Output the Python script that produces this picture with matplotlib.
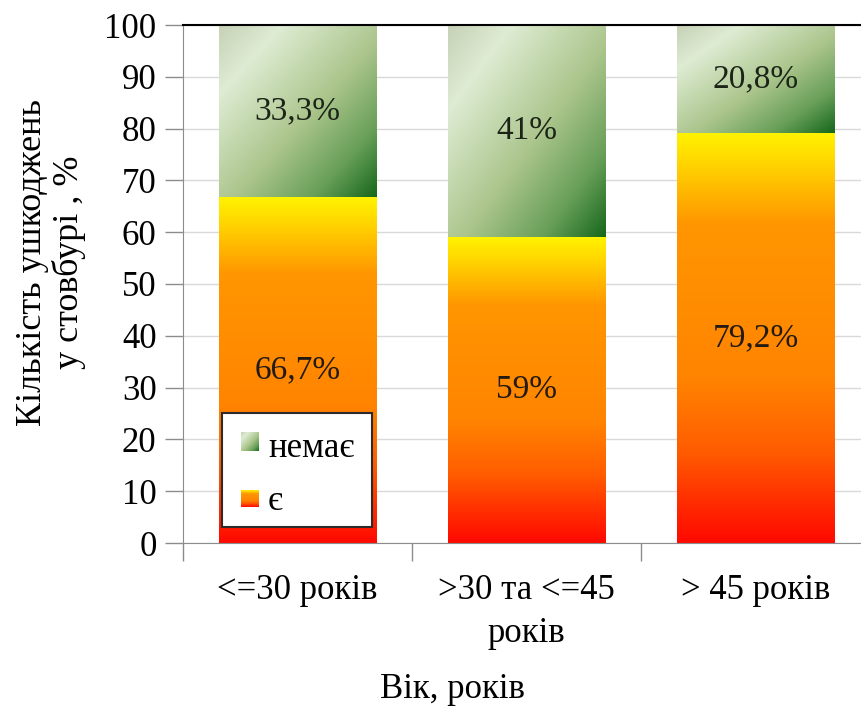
import numpy as np
import matplotlib
matplotlib.use('Agg')
import matplotlib.pyplot as plt
from matplotlib.colors import LinearSegmentedColormap
from matplotlib.patches import Rectangle

# share of trees with / without trunk damage by age group, %
categories = ['<=30 років', '>30 та <=45\nроків', '> 45 років']
share_yes = [66.7, 59.0, 79.2]
share_no = [33.3, 41.0, 20.8]
labels_yes = ['66,7%', '59%', '79,2%']
labels_no = ['33,3%', '41%', '20,8%']
legend_labels = ['немає', 'є']

plt.rcParams['font.family'] = 'serif'
plt.rcParams['font.serif'] = ['Liberation Serif', 'Times New Roman', 'DejaVu Serif']

cmap_yes = LinearSegmentedColormap.from_list(
    'yes', [(0, '#fff200'), (0.08, '#ffd200'), (0.22, '#ff9600'), (0.6, '#ff8400'),
            (0.78, '#ff5c00'), (0.9, '#ff2e00'), (1, '#ff0a00')])
cmap_no = LinearSegmentedColormap.from_list(
    'no', [(0, '#c6d1b6'), (0.2, '#deecd3'), (0.55, '#abc58c'), (0.8, '#689f58'), (1, '#17681c')])

fig = plt.figure(figsize=(8.61, 7.11), dpi=100)
ax = fig.add_axes([183/861, 168/711, 687/861, 518/711])

width = 0.686

def gradient_rect(x0, x1, y0, y1, cmap, diagonal=False, transform=None):
    v = np.linspace(0, 1, 200)[:, None]
    if diagonal:
        u = np.linspace(0, 1, 120)[None, :]
        t = (u + v) / 2.
    else:
        t = np.repeat(v, 2, axis=1)
    kw = {}
    if transform is not None:
        kw['transform'] = transform
    ax.imshow(t, cmap=cmap, vmin=0, vmax=1, extent=(x0, x1, y0, y1), origin='upper',
              aspect='auto', interpolation='bilinear', zorder=2, **kw)

for i, cat in enumerate(categories):
    x0, x1 = i - width/2, i + width/2
    gradient_rect(x0, x1, 0, share_yes[i], cmap_yes)
    gradient_rect(x0, x1, share_yes[i], share_yes[i] + share_no[i], cmap_no, diagonal=True)
    ax.text(i, share_yes[i]/2, labels_yes[i], ha='center', va='center', fontsize=24, color='#231a14', zorder=3)
    ax.text(i, share_yes[i] + share_no[i]/2, labels_no[i], ha='center', va='center', fontsize=24, color='#1c2418', zorder=3)

ax.set_yticks(range(0, 101, 10))
ax.yaxis.grid(True, color='#d9d9d9', lw=1)
ax.set_axisbelow(True)

ax.set_xticks([-0.5, 0.5, 1.5, 2.5])
ax.set_xticklabels([])
ax.set_xticks(range(len(categories)), minor=True)
ax.set_xticklabels(categories, minor=True, fontsize=25)
for lbl in ax.get_xticklabels(minor=True):
    lbl.set_linespacing(1.4)
ax.tick_params(axis='x', which='minor', length=0, pad=22)
ax.tick_params(axis='x', which='major', length=13, width=1, color='#8c8c8c', direction='out')
ax.tick_params(axis='y', length=13, width=1, color='#8c8c8c', labelsize=25, pad=6)

for s in ['left', 'bottom']:
    ax.spines[s].set_color('#8c8c8c')
ax.spines['right'].set_visible(False)
ax.spines['top'].set_color('black')
ax.spines['top'].set_linewidth(1.5)

# legend box drawn by hand with gradient swatches
ax.add_patch(Rectangle((0.0568, 0.031), 0.2183, 0.22, transform=ax.transAxes,
                       facecolor='white', edgecolor='#2b2b2b', lw=1.5, zorder=4))
gradient_rect(0.0844, 0.1106, 0.1776, 0.2124, cmap_no, diagonal=True, transform=ax.transAxes)
gradient_rect(0.0844, 0.1106, 0.0695, 0.1023, cmap_yes, transform=ax.transAxes)
for im in ax.images[-2:]:
    im.set_zorder(5)
ax.text(0.1237, 0.166, legend_labels[0], transform=ax.transAxes, fontsize=25, va='baseline', zorder=5)
ax.text(0.1237, 0.064, legend_labels[1], transform=ax.transAxes, fontsize=25, va='baseline', zorder=5)
ax.set_xlim(-0.5, 2.5)
ax.set_ylim(0, 100)

fig.text(51/861, 1 - 262/711, 'Кількість ушкоджень\nу стовбурі , %', rotation=90,
         ha='center', va='center', fontsize=26, linespacing=1.15)
fig.text(452/861, 1 - 690/711, 'Вік, років', ha='center', va='center', fontsize=25)

fig.savefig('out.png', dpi=100)
